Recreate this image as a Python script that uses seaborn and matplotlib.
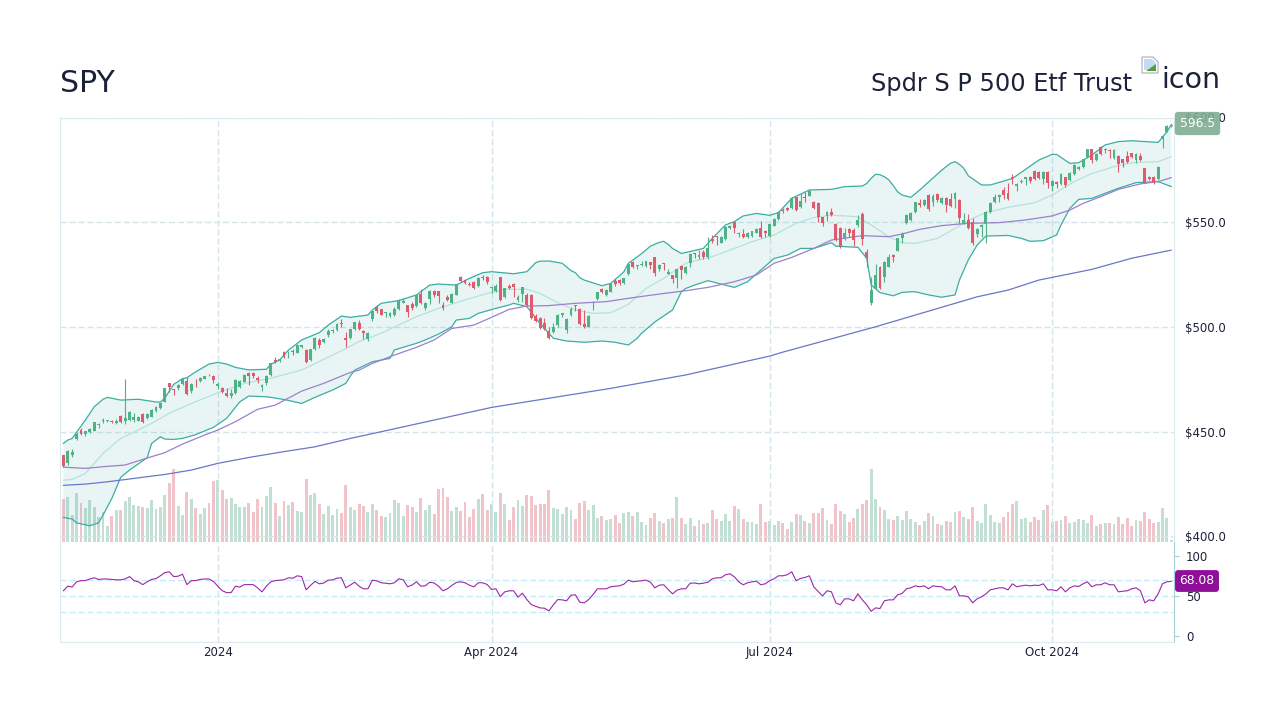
"""
SPY daily candles with Bollinger bands, moving averages, volume and RSI
"""

import numpy as np
import pandas as pd
import matplotlib
matplotlib.use('Agg')
import matplotlib.pyplot as plt
from matplotlib.patches import Polygon
import seaborn as sns

tick_pos = [35, 97, 160, 224]
tick_labels = ['2024', 'Apr 2024', 'Jul 2024', 'Oct 2024']
price_ticks = [400, 450, 500, 550, 600]
rsi_ticks = [0, 50, 100]
rsi_lines = [30, 50, 70]

opens = [
    438.9,435.2,438.9,446.3,450.8,448.9,449.8,450.5,453.0,455.0,
    455.1,455.0,454.0,457.6,455.1,455.7,455.6,455.3,458.6,456.7,
    457.2,459.7,461.1,464.3,473.1,470.2,470.7,472.6,474.0,469.6,
    473.9,474.0,475.3,477.2,476.6,472.0,470.9,468.6,467.2,468.3,
    471.5,473.9,478.0,478.0,475.8,471.3,473.1,477.1,484.2,483.6,
    488.2,487.4,488.5,487.7,490.6,489.2,484.2,489.5,493.8,492.8,
    496.1,498.1,498.5,502.0,494.9,494.9,498.9,501.7,498.1,494.4,
    503.6,509.4,508.6,506.5,505.2,505.7,508.7,511.6,510.5,511.1,
    510.0,515.7,509.2,513.2,517.2,517.0,510.5,514.5,511.6,515.4,
    524.0,522.4,520.5,521.5,519.6,523.9,524.0,518.6,517.2,524.0,
    514.1,519.7,520.5,512.9,515.7,515.1,515.3,505.2,504.1,501.7,
    497.9,497.8,501.0,505.7,498.5,505.7,510.3,508.7,501.4,500.1,
    512.2,513.2,518.0,515.3,516.9,521.9,522.4,520.8,525.1,530.9,
    528.9,529.4,529.1,531.0,533.2,527.5,530.4,525.4,524.8,523.2,
    529.1,525.6,530.4,535.3,533.2,535.9,533.6,542.1,543.3,540.2,
    541.8,547.1,549.9,544.4,544.4,543.1,543.4,545.0,547.2,545.8,
    543.4,548.4,551.4,555.8,556.6,556.6,561.9,557.1,562.2,562.7,
    559.6,559.0,552.3,553.0,555.0,549.2,547.2,542.5,546.6,546.3,
    548.7,553.8,535.6,511.6,518.4,528.8,524.0,528.8,534.3,536.4,
    542.5,549.8,551.1,554.9,559.0,558.4,563.0,559.8,563.5,559.3,
    561.7,560.9,560.9,560.6,549.8,551.1,550.3,544.4,547.9,549.2,
    554.9,559.5,562.2,565.4,563.8,571.7,567.3,569.2,570.5,571.7,
    574.5,574.0,570.5,574.0,567.3,569.4,568.3,571.4,570.2,573.0,
    575.6,576.2,581.3,584.8,579.7,585.9,584.5,584.5,580.8,581.6,
    580.0,581.6,582.9,579.7,581.8,575.7,571.7,571.7,570.5,589.6,593.2,596.0,
]
highs = [
    439.0,441.3,441.6,450.0,451.6,450.5,451.6,454.8,454.0,456.4,
    455.6,455.6,456.2,458.1,475.0,459.7,459.1,457.5,458.8,458.8,
    460.7,462.3,464.0,470.7,473.4,470.5,472.8,475.3,475.9,473.1,
    475.3,476.1,476.7,477.5,476.9,473.6,471.2,471.0,470.4,475.0,
    474.7,477.4,478.5,478.7,476.6,472.8,476.9,482.6,485.5,485.0,
    488.5,488.4,489.3,491.9,491.5,489.3,489.6,495.4,494.6,494.6,
    498.9,499.0,501.7,503.6,497.5,499.2,502.5,503.3,498.5,497.6,
    508.1,510.3,508.7,507.3,507.0,509.4,513.4,513.7,510.6,511.8,
    515.7,518.3,511.8,517.6,517.6,517.3,511.9,515.3,516.0,520.5,
    524.3,522.9,521.6,521.8,523.7,524.8,524.3,519.2,520.4,524.0,
    518.8,520.4,521.0,515.3,519.2,516.0,515.6,506.0,504.6,504.1,
    500.1,502.0,506.0,506.8,504.3,509.7,510.5,509.0,508.1,505.7,
    512.5,516.9,518.4,518.0,521.1,522.7,522.7,523.5,530.4,531.6,
    529.6,531.5,531.6,531.2,533.4,530.0,530.5,527.5,525.0,527.8,
    529.4,529.1,535.1,535.5,536.7,536.7,543.1,543.9,543.4,543.3,
    548.2,548.7,550.4,545.5,546.9,545.2,546.0,547.1,550.4,546.3,
    549.2,551.9,555.2,556.6,557.3,561.9,562.2,563.8,564.3,565.4,
    560.3,559.5,552.7,555.2,556.8,549.5,547.6,547.1,547.4,547.1,
    553.4,554.7,537.1,523.7,529.9,529.1,531.3,534.8,534.8,542.6,
    545.3,553.8,555.0,559.7,561.2,561.2,563.3,563.5,563.8,562.2,
    561.9,563.8,564.3,560.9,554.6,553.9,551.9,547.4,549.0,555.2,
    559.6,563.5,563.3,566.7,568.6,573.0,568.7,570.5,571.7,572.1,
    574.8,574.5,574.5,574.5,570.1,569.7,573.3,571.7,573.8,577.6,
    577.0,580.3,585.1,585.1,582.9,586.4,585.3,584.8,584.8,582.0,
    580.3,584.2,583.2,582.9,583.2,576.0,572.1,572.1,576.8,591.5,596.6,596.9,
]
lows = [
    433.3,434.1,438.1,446.0,448.4,447.9,449.4,450.3,451.9,454.0,
    454.6,454.0,453.5,454.3,453.7,455.1,454.8,455.0,454.3,456.2,
    456.8,459.4,460.8,464.0,469.1,467.4,469.9,472.3,467.7,468.6,
    471.5,473.9,475.0,476.4,473.4,470.5,468.3,466.7,466.2,468.0,
    471.0,473.6,472.1,475.5,473.1,469.6,472.3,476.6,483.0,483.1,
    485.0,485.3,486.4,487.4,490.1,482.8,483.9,489.0,490.1,492.2,
    495.4,497.3,498.2,500.1,490.6,494.4,498.5,498.5,494.4,493.5,
    503.0,506.8,505.5,504.6,504.9,505.2,508.1,511.3,504.9,508.1,
    509.4,511.0,508.1,511.0,514.5,511.6,508.1,512.4,511.3,515.1,
    521.5,520.5,519.5,518.1,519.2,522.4,520.5,516.4,516.9,512.4,
    513.8,518.0,514.5,512.1,512.1,510.0,503.6,502.2,499.0,498.5,
    494.1,497.3,500.1,504.6,497.3,505.4,507.6,501.1,499.7,499.8,
    508.1,512.9,516.4,514.9,516.5,519.7,520.0,520.5,524.8,528.0,
    527.5,529.1,528.8,527.5,524.5,526.9,527.2,525.3,521.1,518.4,
    522.7,525.3,528.8,532.8,532.6,532.3,532.3,540.2,539.1,539.9,
    541.5,546.6,545.0,543.1,542.5,542.3,543.1,544.7,542.5,542.8,
    543.1,548.2,551.0,554.2,555.5,556.3,555.5,556.9,559.8,562.4,
    556.5,550.3,548.2,550.7,553.1,541.0,537.5,541.5,543.1,538.6,
    547.9,539.1,528.5,510.3,518.1,517.9,521.6,528.5,531.0,536.3,
    540.2,549.2,550.7,554.6,557.4,557.9,555.2,557.7,559.8,558.7,
    555.0,557.1,556.8,549.5,549.2,546.6,539.1,542.8,542.8,539.9,
    554.6,559.2,559.8,560.9,560.6,568.3,565.1,568.6,567.6,568.9,
    570.2,570.5,568.2,566.2,565.1,566.2,567.8,566.6,569.5,572.5,
    574.9,575.7,580.8,578.4,579.2,582.1,582.9,580.5,580.2,574.1,
    576.5,578.1,580.5,578.4,579.2,568.6,570.2,568.3,570.2,585.3,592.9,595.6,
]
closes = [
    433.6,440.8,440.4,449.0,448.9,450.2,451.1,454.5,453.7,455.4,
    455.4,454.5,455.3,454.6,456.4,459.4,456.8,457.0,454.6,458.3,
    460.3,461.9,463.5,470.7,471.2,469.9,472.1,475.0,468.0,472.8,
    473.6,475.6,476.4,476.9,474.5,472.6,468.8,467.2,468.3,474.7,
    474.2,476.9,476.4,476.7,474.7,472.1,476.4,482.6,483.3,484.7,
    485.5,487.7,488.2,491.4,491.2,483.1,489.3,494.9,491.4,494.2,
    498.2,498.5,501.4,501.4,493.6,498.9,502.2,498.9,497.0,497.3,
    507.8,507.8,505.9,507.1,506.7,508.7,512.9,512.4,507.3,509.2,
    515.3,511.3,511.4,517.3,515.1,514.8,509.2,512.9,515.7,520.4,
    522.1,521.1,520.0,518.6,523.4,523.2,521.3,519.1,519.6,512.9,
    518.4,518.4,519.1,514.5,518.9,510.5,504.1,503.0,499.3,499.2,
    494.6,500.1,505.7,506.5,504.0,508.7,510.0,501.4,500.1,505.4,
    512.5,516.5,516.7,517.6,520.8,520.4,521.1,523.2,529.9,528.5,
    529.4,529.9,531.3,529.7,525.6,529.4,529.9,526.2,522.7,527.5,
    527.2,528.5,534.8,534.7,534.3,533.2,537.5,541.2,542.8,542.9,
    547.9,548.4,547.1,545.0,542.8,544.9,545.6,546.8,542.8,544.7,
    549.0,551.7,554.9,555.5,555.8,561.7,555.8,560.3,561.4,565.1,
    556.9,552.3,549.5,554.9,553.5,541.5,538.3,544.7,544.7,541.5,
    551.0,541.8,532.8,517.6,524.8,518.4,531.0,533.5,533.2,542.3,
    544.4,553.3,554.6,559.5,558.1,560.4,556.3,562.5,560.6,561.7,
    558.2,557.7,563.9,551.9,551.1,547.1,539.9,546.9,548.7,554.9,
    559.3,562.2,563.0,563.0,561.1,571.1,568.4,569.8,571.4,569.8,
    570.6,570.9,574.1,568.6,569.5,568.3,573.0,567.6,573.5,577.3,
    576.5,580.0,584.8,579.7,582.4,582.6,585.0,584.2,584.5,577.8,
    578.1,578.9,581.0,582.4,579.7,568.9,570.8,569.4,576.5,591.2,595.9,596.5,
]
volumes = [
    128,134,80,146,116,101,125,104,74,89,
    47,77,95,95,122,134,110,107,104,101,
    125,98,104,140,176,218,107,80,149,128,
    101,83,101,116,182,185,155,128,131,113,
    104,104,116,89,128,104,137,164,116,77,
    122,110,119,92,89,188,140,146,113,83,
    107,80,98,86,170,104,95,113,107,89,
    113,95,77,74,86,125,116,77,110,104,
    89,131,95,110,83,158,161,134,92,104,
    92,119,74,98,128,143,95,113,89,146,
    113,65,104,125,107,140,137,110,113,113,
    155,101,98,83,104,95,68,116,122,95,
    110,71,77,65,68,80,56,86,89,77,
    89,59,50,71,86,62,56,68,71,134,
    71,53,71,47,65,53,56,95,68,62,
    83,62,107,98,68,59,59,53,113,59,
    62,50,62,56,38,59,83,80,62,56,
    86,86,101,65,53,113,92,83,59,71,
    98,113,125,218,128,104,95,68,65,77,
    65,92,68,59,50,62,86,77,53,50,
    62,59,89,92,74,68,104,62,56,113,
    80,59,56,74,89,113,122,68,71,59,
    74,65,95,110,59,62,65,77,56,59,
    68,65,56,80,47,53,56,56,53,74,
    53,71,47,65,62,89,68,56,59,101,71,5,
]
rsi = [
    56.3,62,61,67.5,69,69,71,72.5,70.5,71,
    71,70.5,70,70,71,74,69,67.5,64,67.5,
    70.5,71.5,75,79,80,74,74.5,77,64,69,
    69,70.5,71,71,68,62,56.5,54,54,62,
    61,64,64,64,60,55,62,67.5,69,69.5,
    70,72.5,72,75,74,57.5,63,68,65,66,
    69.5,70,72,72.5,60,63.5,67,62,58.8,58.8,
    69.5,68.7,66.3,65.8,65,66.3,71.3,70,61.3,63.5,
    67.5,62,62.5,67,66,62,56.3,58.8,62.9,66.7,
    67.5,66.3,63.3,61.3,66.3,66.3,64.2,58,58.8,49,
    55,56.3,56.3,48.3,53.3,45.4,39.2,37,35,34.6,
    31.3,38.8,45.4,45,43.8,50.8,51.3,42,41.3,45.4,
    51.7,58.8,58.8,58.8,61.3,62,62.5,64.6,69.6,67.5,
    68.3,68.8,69.6,67,60,63.3,63.8,58,52.5,57,
    58.8,58.8,65.8,66,65,65.8,67,71.3,72.5,72.5,
    76.3,77.5,73.8,67.5,63.8,66.3,67.5,68.3,63.8,65,
    68.8,71.3,75,75,76.3,80,68.8,71.7,72.9,75,
    61.3,55.4,50,56.3,55,41.3,38.8,46.3,46.3,43.8,
    52.5,45,38.8,30.8,35,34.2,43.8,45,45,51.3,
    52.9,58.8,60,62.5,61.3,62.5,58.8,62.5,61.7,61.3,
    57.5,57.5,62.5,50,50,48.8,41.3,46.3,48.8,52.5,
    57.5,58.8,60,60,57.5,65,61.3,62.5,63.3,62.5,
    63.3,62.9,65,57.5,57.5,56.3,61.3,55,60,62.5,
    61.7,65,67.5,61.3,63.8,63.8,66.3,63.8,63.8,55,
    55.8,56.3,58.8,60,56.3,41.3,45,43.8,52.5,65,67.5,68.08,
]

# band and average lines, read at their visible bends
upper_idx = [0,1,2,5,7,9,10,13,17,21,22,23,25,27,28,30,33,35,37,39,42,46,47,49,51,54,58,60,63,65,69,70,72,
             76,80,83,85,89,92,95,97,102,105,106,107,108,110,112,113,115,116,117,118,122,124,127,128,131,133,
             135,136,137,138,140,145,147,150,152,154,157,160,162,165,169,174,177,181,182,183,184,185,186,187,
             188,189,190,192,194,199,201,202,203,204,205,208,210,215,218,221,224,225,228,230,233,236,239,242,
             248,250,251]
upper_band = [444.4,446.0,446.8,455.6,461.9,465.5,466.4,465.1,465.5,464.2,464.2,466.1,472.6,475.3,475.8,478.6,
              482.3,483.1,482.3,480.7,479.5,479.8,482.2,484.2,489.0,493.8,497.3,500.9,505.2,504.6,505.7,508.1,
              511.3,512.6,515.3,520.0,520.5,520.0,523.2,525.9,526.4,525.4,526.4,528.5,530.7,531.4,531.5,530.8,
              530.4,526.9,525.9,523.5,522.4,519.7,520.8,526.4,530.4,535.0,538.6,540.4,540.9,539.5,537.5,535.1,
              537.5,542.3,548.7,550.3,553.0,554.2,553.3,554.6,561.4,565.4,565.7,567.0,567.3,568.5,571.0,572.9,
              572.7,571.7,570.2,567.5,564.5,563.0,561.9,565.4,574.9,578.2,578.9,577.6,575.7,572.2,567.8,567.8,
              570.9,575.3,579.7,582.4,582.4,578.1,578.4,582.1,586.9,588.5,588.9,588.1,593.2,596.7]
lower_idx = [0,2,3,6,8,9,11,13,15,19,20,22,23,25,27,30,34,37,40,42,46,50,54,57,61,64,65,66,70,74,75,77,80,82,
             85,88,89,92,94,98,101,102,105,108,111,114,118,122,125,128,130,131,134,138,140,141,143,146,149,152,
             155,157,161,164,167,170,174,175,180,182,183,185,188,190,192,193,196,199,202,203,205,207,209,214,
             217,219,222,225,226,228,230,233,236,239,243,248,251]
lower_band = [409.1,408.3,406.5,405.1,406.5,410.2,418.2,428.2,431.7,437.6,444.4,447.6,446.5,446.3,446.8,448.6,
              452.1,456.4,464.3,467.0,466.7,465.4,463.5,466.4,469.9,473.1,476.6,479.4,483.4,485.0,489.0,490.3,
              492.2,493.8,496.6,500.1,503.3,504.1,506.5,508.9,510.5,511.3,509.7,501.7,494.6,493.3,492.7,493.3,
              492.7,491.4,494.6,497.0,502.4,508.1,516.8,518.4,520.0,522.1,520.5,518.9,521.6,525.3,532.7,534.3,
              537.5,537.5,540.2,538.6,538.0,532.8,520.0,516.4,514.9,516.5,516.8,516.8,515.3,514.2,515.3,522.4,
              532.0,539.1,543.4,543.7,542.3,540.9,541.2,543.9,548.7,556.6,560.9,561.4,563.8,566.2,568.9,569.4,567.0]
mid_idx = [0,2,5,9,13,17,20,24,29,35,41,47,54,63,67,72,76,80,85,91,96,100,105,108,112,116,120,124,128,132,136,
           141,147,152,156,161,166,170,174,180,183,187,190,193,198,202,206,209,214,220,224,229,233,238,242,248,251]
mid_band = [426.9,427.2,430.1,439.7,446.8,450.8,454.0,458.8,463.5,468.6,473.1,475.5,479.5,488.6,493.0,497.0,501.0,
            504.9,508.9,512.9,516.0,518.0,518.0,516.0,511.6,508.1,506.5,506.8,510.8,518.4,523.2,530.4,533.6,537.5,
            540.7,543.9,549.5,552.2,553.4,552.6,548.7,543.1,540.2,539.9,542.3,547.1,551.9,554.6,557.1,559.3,563.0,
            569.4,573.3,576.5,578.4,578.9,581.3]
sma50_idx = [0,5,9,14,18,23,27,32,35,39,44,48,54,59,65,67,70,75,80,84,88,93,97,101,105,110,116,123,129,136,141,
             146,152,157,161,165,170,174,181,187,190,194,199,205,212,218,224,228,231,235,239,244,248,251]
sma50 = [433.1,432.5,433.3,434.1,436.8,440.0,444.1,448.4,450.8,454.8,460.7,462.7,469.4,473.1,478.3,479.4,482.6,
         486.6,490.3,493.8,499.3,500.9,504.6,508.4,510.0,510.2,511.3,512.1,514.0,516.0,517.3,518.9,521.6,524.8,
         530.4,533.2,537.5,541.5,543.6,543.1,544.4,546.6,548.4,549.5,549.8,551.1,553.0,555.8,559.0,562.2,565.7,
         568.3,569.4,571.3]
sma200_idx = [0,5,10,16,23,29,35,42,50,57,65,72,97,124,141,160,163,184,207,214,221,233,242,251]
sma200 = [424.4,425.0,426.1,427.7,429.6,431.7,434.9,437.7,440.5,442.8,446.8,450.0,461.6,470.7,477.1,486.1,488.0,
          500.1,514.4,517.6,522.4,527.5,532.8,536.7]

UP = '#4fb286'
DOWN = '#e05a6d'
UP_VOL = '#bce4d2'
DOWN_VOL = '#f9bcc4'
BAND = '#3bada3'
MID = '#b4e2da'
PURPLE = '#9b80cb'
BLUE = '#6a76c8'
RSI_LINE = '#9c27a8'
TEXT = '#1b2139'
GRID = '#d6e5ea'
EDGE = '#dcebf0'
BAR_WIDTH = 0.66


def px_rect(x0, y0, x1, y1):
    """Figure rectangle from pixel corners, y measured from the top"""
    return [x0 / 1280, 1 - y1 / 720, (x1 - x0) / 1280, (y1 - y0) / 720]


def draw_icon(fig):
    """Broken image placeholder next to the alt text"""
    def pts(points):
        return [(x / 1280, 1 - y / 720) for x, y in points]
    tr = fig.transFigure
    fig.add_artist(Polygon(pts([(1142, 57), (1153, 57), (1158, 62), (1158, 73), (1142, 73)]), closed=True,
                           fc='white', ec='#a9aeb5', lw=0.8, transform=tr))
    fig.add_artist(Polygon(pts([(1144, 59), (1152, 59), (1156, 63), (1156, 70), (1144, 70)]), closed=True,
                           fc='#c5d9f2', ec='none', transform=tr))
    fig.add_artist(Polygon(pts([(1146, 71), (1156, 64), (1156, 71)]), closed=True,
                           fc='#4f9e3a', ec='none', transform=tr))


def main():
    sns.set_theme(style='white')
    plt.rcParams['font.family'] = ['DejaVu Sans']

    df = pd.DataFrame({'open': opens, 'high': highs, 'low': lows, 'close': closes,
                       'volume': volumes, 'rsi': rsi})
    df['idx'] = np.arange(len(df))
    df['dir'] = np.where(df['close'] >= df['open'], 'up', 'down')
    up = df[df['dir'] == 'up']
    down = df[df['dir'] == 'down']

    fig = plt.figure(figsize=(12.8, 7.2), dpi=100, facecolor='white')
    ax_vol = fig.add_axes(px_rect(60, 117.5, 1174, 541.7), zorder=0)
    ax = fig.add_axes(px_rect(60, 117.5, 1174, 541.7), zorder=1, sharex=ax_vol)
    ax_rsi = fig.add_axes(px_rect(60, 541.7, 1174, 641.5), zorder=1, sharex=ax_vol)
    ax.patch.set_visible(False)

    # Volume
    sns.barplot(data=df, x='idx', y='volume', hue='dir', palette={'up': UP_VOL, 'down': DOWN_VOL},
                native_scale=True, dodge=False, errorbar=None, legend=False, ax=ax_vol)
    # seaborn narrows the bars of each hue, so put them back to the full width
    for bar in ax_vol.patches:
        centre = bar.get_x() + bar.get_width() / 2
        bar.set_width(BAR_WIDTH)
        bar.set_x(centre - BAR_WIDTH / 2)
        bar.set_linewidth(0)
    ax_vol.set_ylim(0, 1272.6)
    ax_vol.axis('off')

    # Grid
    dash = (0, (4.5, 2))
    ax.set_axisbelow(True)
    for v in price_ticks:
        ax.axhline(v, color=GRID, lw=1, ls=dash, zorder=0.5)
    for t in tick_pos:
        ax.axvline(t, color=GRID, lw=1, ls=dash, zorder=0.5)
        ax_rsi.axvline(t, color=GRID, lw=1, ls=dash, zorder=0.5)

    # Bollinger bands
    ax.fill(np.r_[upper_idx, lower_idx[::-1]], np.r_[upper_band, lower_band[::-1]],
            color=BAND, alpha=0.11, lw=0, zorder=1)
    line_kw = dict(ax=ax, estimator=None, sort=False, legend=False, zorder=2)
    sns.lineplot(x=mid_idx, y=mid_band, color=MID, lw=0.9, **line_kw)
    sns.lineplot(x=upper_idx, y=upper_band, color=BAND, lw=0.9, **line_kw)
    sns.lineplot(x=lower_idx, y=lower_band, color=BAND, lw=0.9, **line_kw)
    sns.lineplot(x=sma50_idx, y=sma50, color=PURPLE, lw=0.9, **line_kw)
    sns.lineplot(x=sma200_idx, y=sma200, color=BLUE, lw=0.9, **line_kw)

    # Candles
    for part, colour in [(up, UP), (down, DOWN)]:
        ax.vlines(part['idx'], part['low'], part['high'], color=colour, lw=0.8, zorder=3)
        body_low = part[['open', 'close']].min(axis=1)
        body_high = part[['open', 'close']].max(axis=1)
        ax.bar(part['idx'], body_high - body_low, bottom=body_low, width=BAR_WIDTH, color=colour, lw=0, zorder=3)

    ax.set_xlim(-0.75, 251.6)
    ax.set_ylim(397.5, 600)
    ax.yaxis.tick_right()
    ax.set_yticks(price_ticks)
    ax.set_yticklabels([f'${v:.1f}' for v in price_ticks], fontsize=8.5, color=TEXT)
    ax.tick_params(axis='y', length=0, pad=8)
    ax.tick_params(axis='x', length=0, labelbottom=False)
    ax.set_xlabel('')
    ax.set_ylabel('')
    for side in ['left', 'right', 'top']:
        ax.spines[side].set_color(EDGE)
        ax.spines[side].set_linewidth(0.8)
    ax.spines['bottom'].set_visible(False)

    # RSI
    for v in rsi_lines:
        ax_rsi.axhline(v, color='#c6edfa', lw=1, ls=dash, zorder=0.6)
    sns.lineplot(data=df, x='idx', y='rsi', color=RSI_LINE, lw=0.8, estimator=None, sort=False,
                 legend=False, ax=ax_rsi, zorder=2)
    ax_rsi.set_ylim(-6.9, 117.5)
    ax_rsi.yaxis.tick_right()
    ax_rsi.set_yticks(rsi_ticks)
    ax_rsi.set_yticklabels([str(v) for v in rsi_ticks], fontsize=8.5, color=TEXT)
    ax_rsi.tick_params(axis='y', length=3.5, width=0.8, color='#a8d0da', pad=5)
    ax_rsi.set_xticks(tick_pos)
    ax_rsi.set_xticklabels(tick_labels, fontsize=8.5, color=TEXT)
    ax_rsi.tick_params(axis='x', length=0, pad=3)
    ax_rsi.set_xlabel('')
    ax_rsi.set_ylabel('')
    ax_rsi.set_xlim(-0.75, 251.6)
    ax_rsi.spines['top'].set_visible(False)
    ax_rsi.spines['left'].set_color(EDGE)
    ax_rsi.spines['bottom'].set_color(EDGE)
    ax_rsi.spines['right'].set_color('#a8d0da')
    for side in ax_rsi.spines:
        ax_rsi.spines[side].set_linewidth(0.8)

    # Last value tags
    fig.text(1197.5 / 1280, 1 - 123.5 / 720, f'{closes[-1]:.1f}', color='white', fontsize=8.8, ha='center',
             va='center', zorder=10,
             bbox=dict(boxstyle='round,pad=0.42,rounding_size=0.25', fc='#7fae92', ec='none', alpha=0.9))
    fig.text(1197 / 1280, 1 - 581 / 720, f'{rsi[-1]:.2f}', color='white', fontsize=8.8, ha='center',
             va='center', zorder=10,
             bbox=dict(boxstyle='round,pad=0.36,rounding_size=0.25', fc='#900f98', ec='none'))

    # Header
    fig.text(60 / 1280, 1 - 83 / 720, 'SPY', fontsize=21.6, color=TEXT, ha='left', va='center')
    fig.text(1132 / 1280, 1 - 84 / 720, 'Spdr S P 500 Etf Trust', fontsize=17.3, color=TEXT, ha='right', va='center')
    fig.text(1220 / 1280, 1 - 80 / 720, 'icon', fontsize=20.5, color=TEXT, ha='right', va='center')
    draw_icon(fig)

    fig.savefig('out.png', dpi=100, facecolor='white')


if __name__ == "__main__":
    main()
